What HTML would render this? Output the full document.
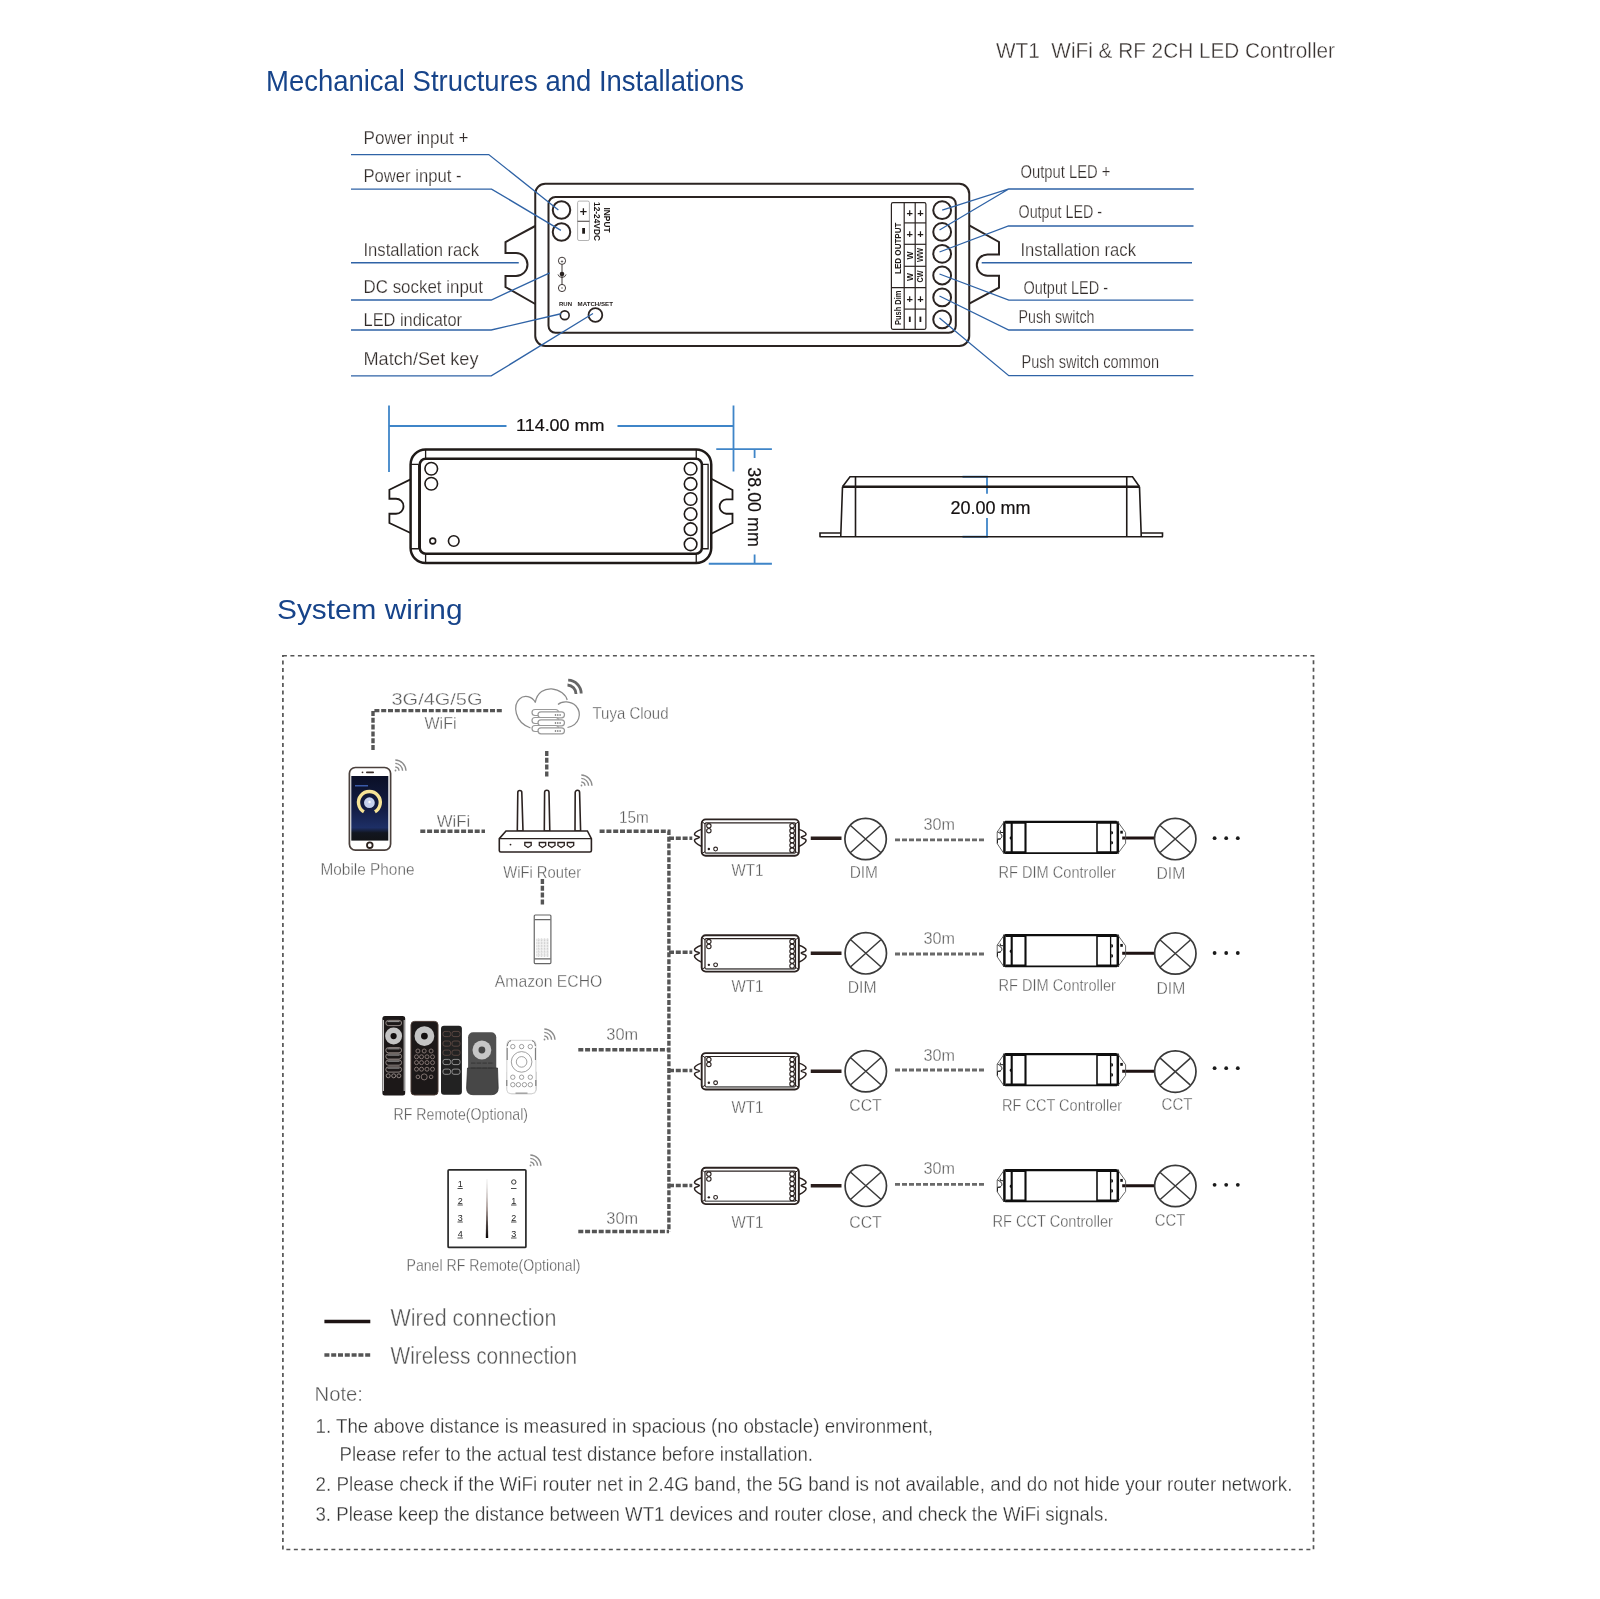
<!DOCTYPE html>
<html><head><meta charset="utf-8">
<style>
html,body{margin:0;padding:0;background:#fff;width:1600px;height:1599px;overflow:hidden}
svg{display:block;will-change:transform}
text{font-family:"Liberation Sans",sans-serif}
</style></head><body>
<svg width="1600" height="1599" viewBox="0 0 1600 1599">
<defs>
  <g id="wt1" fill="none" stroke="#2b2220">
    <rect x="0" y="0" width="97.15" height="36.4" rx="4" stroke-width="1.9"/>
    <rect x="3.3" y="3.4" width="90.5" height="30.3" rx="1.2" stroke-width="1.2"/>
    <line x1="4" y1="33.6" x2="93" y2="33.6" stroke="#777" stroke-width="1.2"/>
    <path d="M0.5,2.5 L3.3,4.5 M96.65,2.5 L93.8,4.5 M0.5,34 L3.3,32.2 M96.65,34 L93.8,32.2" stroke-width="1"/>
    <path d="M0,10 C-3,11 -7.2,12.5 -7.2,14.8 C-7.2,17 -2.3,16.5 -2.3,17.9 C-2.3,19.3 -7.2,18.8 -7.2,21 C-7.2,23.5 -3,25.5 0,27" stroke-width="1.5"/>
    <path d="M97.15,10 C100.15,11 104.35,12.5 104.35,14.8 C104.35,17 99.45,16.5 99.45,17.9 C99.45,19.3 104.35,18.8 104.35,21 C104.35,23.5 100.15,25.5 97.15,27" stroke-width="1.5"/>
    <g stroke-width="1.1">
      <circle cx="7.15" cy="6.4" r="2.2"/><circle cx="7.15" cy="11.3" r="2.2"/>
      <circle cx="90.4" cy="6.4" r="2.3"/><circle cx="90.4" cy="11.27" r="2.3"/><circle cx="90.4" cy="16.14" r="2.3"/>
      <circle cx="90.4" cy="21" r="2.3"/><circle cx="90.4" cy="25.9" r="2.3"/><circle cx="90.4" cy="30.8" r="2.3"/>
      <circle cx="13.9" cy="29.65" r="1.9"/>
    </g>
    <circle cx="7.15" cy="29.65" r="1.2" fill="#2b2220" stroke="none"/>
  </g>
  <g id="rfc" fill="none" stroke="#0e0e0e">
    <path d="M2,1 L113.5,1" stroke-width="2.1"/>
    <path d="M2,32.3 L114,32.3" stroke-width="1.7"/>
    <path d="M2.5,1.6 L22.4,1.6 M94,1.6 L114,1.6" stroke-width="2.6"/>
    <path d="M2.5,31.6 L22.4,31.6 M94,31.6 L114,31.6" stroke-width="2.6"/>
    <path d="M1.3,0.5 L1.3,32.8" stroke-width="2.5"/>
    <path d="M8.6,1 L8.6,32" stroke-width="2.1"/>
    <path d="M22.4,1 L22.4,32" stroke-width="2.1"/>
    <path d="M93.9,1 L93.9,32" stroke-width="1.6"/>
    <path d="M107.5,1 L107.5,32" stroke-width="1.3"/>
    <path d="M114.7,0.5 L114.7,32.8" stroke-width="2.5"/>
    <path d="M1.5,0.3 L-5.9,11.1 L-5.9,22.7 L0.5,32.2 M114.4,0.5 L122.5,11.7 L122.5,22.35 L114.7,32.7" stroke="#555" stroke-width="0.9"/>
    <path d="M-2.8,9.5 L-2.8,11.6 L0,11.6 M-5.6,11 C-2,12.5 -0.5,14.5 -1.5,16.5 C-2.5,18 -4,18.2 -5.6,18.2 L-2.5,18.2 M-5.6,18.5 L-5.6,22.5" stroke="#222" stroke-width="1"/>
  </g>
  <g id="rfcdots" fill="#111">
    <path d="M108.2,10 A1.8,1.8 0 0 1 108.2,13.6 Z M108.2,20 A1.8,1.8 0 0 1 108.2,23.6 Z"/>
    <path d="M8.3,15.3 A1.8,1.8 0 0 0 8.3,18.9 Z"/>
    <rect x="117.2" y="9.85" width="2.5" height="2.85"/>
  </g>
  <g id="lamp" fill="none" stroke="#3a3a3a" stroke-width="1.7">
    <circle cx="0" cy="0" r="20.7"/>
    <path d="M-15.1,-13.5 L15.1,13.5 M15.1,-13.5 L-15.1,13.5" stroke-width="1.5"/>
  </g>
  <g id="wifi3" fill="none" stroke="#8c8c8c" stroke-width="1.4">
    <path d="M0.3,-4 A4,4 0 0 1 4,-0.3 M0.3,-7.6 A7.6,7.6 0 0 1 7.6,-0.3 M0.3,-11 A11,11 0 0 1 11,-0.3"/>
    <circle cx="0.5" cy="-0.5" r="0.9" fill="#8c8c8c" stroke="none"/>
  </g>
  <linearGradient id="scr" x1="0" y1="0" x2="0" y2="1">
    <stop offset="0" stop-color="#0a0f26"/>
    <stop offset="0.5" stop-color="#131c44"/>
    <stop offset="0.8" stop-color="#1d2f66"/>
    <stop offset="0.88" stop-color="#121620"/>
    <stop offset="1" stop-color="#111317"/>
  </linearGradient>
  <linearGradient id="sld" x1="0" y1="0" x2="0" y2="1">
    <stop offset="0" stop-color="#eee"/>
    <stop offset="0.5" stop-color="#9a8a86"/>
    <stop offset="1" stop-color="#0a0606"/>
  </linearGradient>
</defs>
<rect x="0" y="0" width="1600" height="1599" fill="#fff"/>

<!-- HEADER -->
<text x="996" y="58.2" font-size="22" fill="#3a3432" stroke="#fff" stroke-width="0.35" textLength="339" lengthAdjust="spacingAndGlyphs">WT1&#160; WiFi &amp; RF 2CH LED Controller</text>
<text x="266" y="91" font-size="29.5" fill="#17448a" textLength="478" lengthAdjust="spacingAndGlyphs">Mechanical Structures and Installations</text>

<!-- MECH TOP VIEW -->
<g id="mech1" fill="none" stroke="#2b2422" stroke-width="2">
  <rect x="535.25" y="183.75" width="434" height="162.25" rx="10"/>
  <rect x="548.5" y="197" width="407.3" height="135.8" rx="7"/>
  <path d="M535.25,226 L505.5,242 L505.5,253 L516,253 A11.5,11.5 0 0 1 516,276 L505.5,276 L505.5,287 L535.25,304"/>
  <path d="M969.25,225.3 L999,242 L999,254.4 L987.5,254.4 A10.7,10.7 0 0 0 987.5,275.8 L999,275.8 L999,287.7 L969.25,303.7"/>
  <circle cx="561.5" cy="210" r="8.75"/>
  <circle cx="561.5" cy="232" r="8.75"/>
  <circle cx="564.75" cy="315.25" r="4.4" stroke-width="1.6"/>
  <circle cx="595.4" cy="315" r="6.9" stroke-width="1.8"/>
  <rect x="577.6" y="201.1" width="11.8" height="39.4" rx="1.5" stroke="#aaa" stroke-width="0.9"/>
  <line x1="577.6" y1="221.25" x2="589.4" y2="221.25" stroke-width="0.9"/>
  <g stroke-width="1">
    <circle cx="562" cy="260.8" r="3.6" stroke-width="0.9"/>
    <circle cx="562" cy="288" r="3.6" stroke-width="0.9"/>
    <line x1="562" y1="264.4" x2="562" y2="284.4" stroke-width="0.9"/>
    <path d="M558,274.5 A4.2,4.2 0 0 0 566,274.5" stroke-width="0.9"/>
    <path d="M560.8,261.5 L563.2,261.5 M562,260.3 L562,262.7 M562,287 L562,289" stroke-width="0.6"/>
  </g>
  <circle cx="562" cy="274" r="2.3" fill="#2b2422" stroke="none"/>
  <!-- right circles -->
  <g stroke-width="2">
    <circle cx="942.15" cy="210.2" r="8.9"/>
    <circle cx="942.15" cy="231.9" r="8.9"/>
    <circle cx="942.15" cy="253.8" r="8.9"/>
    <circle cx="942.15" cy="275.5" r="8.9"/>
    <circle cx="942.15" cy="297.4" r="8.9"/>
    <circle cx="942.15" cy="319.4" r="8.9"/>
  </g>
  <!-- table -->
  <g stroke-width="1.2">
    <rect x="891.4" y="202.7" width="34.5" height="126.6" rx="1.5"/>
    <line x1="904.2" y1="202.7" x2="904.2" y2="329.3"/>
    <line x1="915.2" y1="202.7" x2="915.2" y2="329.3"/>
    <line x1="904.2" y1="222.9" x2="925.9" y2="222.9"/>
    <line x1="904.2" y1="244.3" x2="925.9" y2="244.3"/>
    <line x1="904.2" y1="266.3" x2="925.9" y2="266.3"/>
    <line x1="891.4" y1="287.7" x2="925.9" y2="287.7"/>
    <line x1="904.2" y1="309.1" x2="925.9" y2="309.1"/>
  </g>
</g>
<g fill="#1f1a18" font-weight="bold">
  <path d="M580.2,211.6 L586.6,211.6 M583.4,208.3 L583.4,214.9" stroke="#1f1a18" stroke-width="1.3"/>
  <rect x="582.2" y="228" width="2.8" height="5.7"/>
  <text transform="translate(604,207.5) rotate(90)" font-size="8.2" textLength="25" lengthAdjust="spacingAndGlyphs">INPUT</text>
  <text transform="translate(594,202) rotate(90)" font-size="8.2" textLength="39" lengthAdjust="spacingAndGlyphs">12-24VDC</text>
  <text x="559" y="305.5" font-size="6.2" textLength="13" lengthAdjust="spacingAndGlyphs">RUN</text>
  <text x="577.5" y="305.5" font-size="6.2" textLength="35.5" lengthAdjust="spacingAndGlyphs">MATCH/SET</text>
</g>
<g fill="#1f1a18" font-weight="bold">
  <text transform="translate(900.6,274) rotate(-90)" font-size="8.4" textLength="51.5" lengthAdjust="spacingAndGlyphs">LED OUTPUT</text>
  <text transform="translate(900.6,325) rotate(-90)" font-size="8.4" textLength="34.5" lengthAdjust="spacingAndGlyphs">Push Dim</text>
  <g font-size="11" font-weight="bold" text-anchor="middle">
    <text x="909.8" y="216.8">+</text><text x="920.4" y="216.8">+</text>
    <text x="909.8" y="237.8">+</text><text x="920.4" y="237.8">+</text>
    <text x="909.8" y="302.6">+</text><text x="920.4" y="302.6">+</text>
  </g>
  <rect x="908.9" y="316.6" width="1.8" height="5.4"/>
  <rect x="919.5" y="316.6" width="1.8" height="5.4"/>
  <text transform="translate(912.8,259.5) rotate(-90)" font-size="8.4" textLength="8" lengthAdjust="spacingAndGlyphs">W</text>
  <text transform="translate(912.8,281) rotate(-90)" font-size="8.4" textLength="8" lengthAdjust="spacingAndGlyphs">W</text>
  <text transform="translate(923.4,262) rotate(-90)" font-size="8.4" textLength="14" lengthAdjust="spacingAndGlyphs">WW</text>
  <text transform="translate(923.4,282.5) rotate(-90)" font-size="8.4" textLength="12" lengthAdjust="spacingAndGlyphs">CW</text>
</g>

<!-- leader lines -->
<g fill="none" stroke="#2f63a6" stroke-width="1.3">
  <path d="M351,154.6 L488.75,154.6 L558.4,210"/>
  <path d="M351,189.1 L491.6,189.1 L560.9,230.4"/>
  <path d="M351,262.75 L518.75,262.75"/>
  <path d="M351,300 L491.25,300 L549.75,272.9"/>
  <path d="M351,330 L491.25,330 L561,313.75"/>
  <path d="M351,375.9 L491.25,375.9 L593,313.5"/>
  <path d="M1193.75,189 L1008.75,189 L942.2,210.2 M1008.75,189 L939.5,230"/>
  <path d="M1193.5,226 L1008.5,226 L939.5,252"/>
  <path d="M1192,262.75 L981.7,262.75"/>
  <path d="M1193.4,300.2 L1008.8,300.2 L939.5,274"/>
  <path d="M1193.4,330 L1008.8,330 L939.5,296"/>
  <path d="M1193.4,375.7 L1008.8,375.7 L939.5,318"/>
</g>
<g fill="#322c2a" stroke="#fff" stroke-width="0.25">
  <text x="363.5" y="144.4" font-size="19" textLength="105" lengthAdjust="spacingAndGlyphs">Power input +</text>
  <text x="363.5" y="181.9" font-size="19" textLength="98" lengthAdjust="spacingAndGlyphs">Power input -</text>
  <text x="363.5" y="255.9" font-size="19" textLength="115.5" lengthAdjust="spacingAndGlyphs">Installation rack</text>
  <text x="363.5" y="292.5" font-size="19" textLength="119.5" lengthAdjust="spacingAndGlyphs">DC socket input</text>
  <text x="363.5" y="325.6" font-size="19" textLength="98.5" lengthAdjust="spacingAndGlyphs">LED indicator</text>
  <text x="363.5" y="365" font-size="19" textLength="115" lengthAdjust="spacingAndGlyphs">Match/Set key</text>
  <text x="1020.5" y="178.1" font-size="17.5" textLength="90" lengthAdjust="spacingAndGlyphs">Output LED +</text>
  <text x="1018.5" y="217.5" font-size="17.5" textLength="83.5" lengthAdjust="spacingAndGlyphs">Output LED -</text>
  <text x="1020.5" y="255.6" font-size="17.5" textLength="115.5" lengthAdjust="spacingAndGlyphs">Installation rack</text>
  <text x="1023.5" y="293.6" font-size="17.5" textLength="84.5" lengthAdjust="spacingAndGlyphs">Output LED -</text>
  <text x="1018.5" y="323.2" font-size="17.5" textLength="76" lengthAdjust="spacingAndGlyphs">Push switch</text>
  <text x="1021.5" y="367.8" font-size="17.5" textLength="137.5" lengthAdjust="spacingAndGlyphs">Push switch common</text>
</g>

<!-- DIMENSION VIEW -->
<g fill="none" stroke="#1f1a18" stroke-width="2.5">
  <rect x="410.6" y="449.4" width="300.65" height="113.6" rx="15"/>
  <rect x="419.75" y="458.75" width="282.15" height="95" rx="6"/>
  <path d="M418.75,464.4 L411,464.4 M418.75,464.4 L418.75,548.75 L411,548.75" stroke-width="1.3"/>
  <path d="M702.5,464.4 L708.1,464.4 L708.1,548.75 L702.5,548.75" stroke-width="1.3"/>
  <path d="M425.6,449.4 L425.6,458.75 M425.6,553.75 L425.6,563 M696.25,449.4 L696.25,458.75 M696.25,553.75 L696.25,563" stroke-width="1.3"/>
  <path d="M410.6,479.4 L389.4,489.75 L389.4,498.75 L396,498.75 A7.5,7.5 0 0 1 396,513.75 L389.4,513.75 L389.4,523 L410.6,533" stroke-width="1.8"/>
  <path d="M711.25,478.75 L732.5,490 L732.5,499.4 L726.25,499.4 A7.2,7.2 0 0 0 726.25,513.75 L732.5,513.75 L732.5,523 L711.25,533.75" stroke-width="1.8"/>
  <g stroke-width="1.6">
    <circle cx="431.25" cy="468.75" r="6.3"/>
    <circle cx="431.25" cy="483.75" r="6.3"/>
    <circle cx="432.75" cy="541" r="2.9"/>
    <circle cx="453.75" cy="541" r="5.3"/>
    <circle cx="690.6" cy="468.75" r="6.3"/>
    <circle cx="690.6" cy="483.9" r="6.3"/>
    <circle cx="690.6" cy="499" r="6.3"/>
    <circle cx="690.6" cy="514.1" r="6.3"/>
    <circle cx="690.6" cy="529.2" r="6.3"/>
    <circle cx="690.6" cy="544.3" r="6.3"/>
  </g>
</g>
<g fill="none" stroke="#3f85c8" stroke-width="1.8">
  <path d="M389,405.6 L389,471.9 M389,426 L506.5,426 M617.5,426 L733.5,426 M733.5,405.6 L733.5,471.5"/>
  <path d="M716.25,449.1 L771.9,449.1 M708.75,563.75 L771.9,563.75 M754.6,449.1 L754.6,458 M754.6,554.6 L754.6,563.75"/>
  <path d="M962.5,476.75 L987,476.75 L987,493.75 M987,518 L987,536.75 L962.5,536.75"/>
</g>
<g fill="#141010" stroke="#141010" stroke-width="0.2">
  <text x="516" y="431.25" font-size="17" textLength="88.5" lengthAdjust="spacingAndGlyphs">114.00 mm</text>
  <text transform="translate(748.3,467.3) rotate(90)" font-size="19" textLength="79.5" lengthAdjust="spacingAndGlyphs">38.00 mm</text>
  <text x="950.5" y="513.75" font-size="17.5" textLength="80" lengthAdjust="spacingAndGlyphs">20.00 mm</text>
</g>
<!-- side view -->
<g fill="none" stroke="#1f1a18" stroke-width="1.6">
  <path d="M842.5,486.75 L850,476.75 L1132.5,476.75 L1139.5,486.75"/>
  <path d="M842.5,486.75 L1139.5,486.75" stroke-width="2.6"/>
  <path d="M842.5,486.75 L840.75,536.5 M1139.5,486.75 L1141.25,536.5"/>
  <path d="M855.5,476.75 L855.5,536.5 M1126.75,476.75 L1126.75,536.5"/>
  <path d="M819.5,536.75 L1163,536.75"/>
  <path d="M820,536.75 L820,533 L840.75,533 M1141.25,533 L1162.5,533 L1162.5,536.75"/>
</g>

<!-- SYSTEM WIRING -->
<text x="277" y="619" font-size="28.5" fill="#17448a" textLength="185.5" lengthAdjust="spacingAndGlyphs">System wiring</text>
<rect x="282.9" y="655.75" width="1030.6" height="893.75" fill="none" stroke="#555" stroke-width="1.7" stroke-dasharray="4 3.5"/>

<!-- wireless thick dashed -->
<g fill="none" stroke="#555" stroke-width="3.4" stroke-dasharray="5 1.8">
  <path d="M373,750 L373,710.6 L502,710.6"/>
  <path d="M546.75,751 L546.75,778"/>
  <path d="M420.3,831.25 L485,831.25"/>
  <path d="M599.6,831.25 L668.9,831.25 L668.9,1231.5"/>
  <path d="M542.4,879 L542.4,905.4"/>
  <path d="M669,838.25 L692.25,838.25 M669,952.25 L692.25,952.25 M669,1070.5 L692.25,1070.5 M669,1185.5 L692.25,1185.5"/>
  <path d="M578.3,1049.8 L669,1049.8"/>
  <path d="M578.3,1231.5 L669,1231.5"/>
  <path d="M324.4,1355 L370.3,1355"/>
</g>
<g fill="none" stroke="#6a6a6a" stroke-width="2.8" stroke-dasharray="5 2">
  <path d="M895,839.8 L986,839.8 M895,954 L986,954 M895,1070 L986,1070 M895,1184.3 L986,1184.3"/>
</g>
<!-- wires -->
<g stroke="#2a1e1c" stroke-width="3.6">
  <path d="M810.75,838.25 L841.5,838.25 M810.75,953.3 L841.5,953.3 M810.75,1071.25 L841.5,1071.25 M810.75,1185.8 L841.5,1185.8"/>
</g>
<g stroke="#1e1212" stroke-width="3">
  <path d="M1122.2,838.1 L1155,838.1 M1122.2,953.3 L1155,953.3 M1122.2,1071.3 L1155,1071.3 M1122.2,1185.8 L1155,1185.8"/>
</g>
<path d="M324.4,1321.5 L370.3,1321.5" stroke="#1e1414" stroke-width="3.6"/>

<use href="#wt1" x="701.7" y="819.4"/>
<use href="#wt1" x="701.7" y="935.2"/>
<use href="#wt1" x="701.7" y="1053.1"/>
<use href="#wt1" x="701.7" y="1167.7"/>
<use href="#rfc" x="1003.1" y="820.9"/><use href="#rfcdots" x="1003.1" y="820.9"/>
<use href="#rfc" x="1003.1" y="934.1"/><use href="#rfcdots" x="1003.1" y="934.1"/>
<use href="#rfc" x="1003.1" y="1053.1"/><use href="#rfcdots" x="1003.1" y="1053.1"/>
<use href="#rfc" x="1003.1" y="1169.1"/><use href="#rfcdots" x="1003.1" y="1169.1"/>
<use href="#lamp" x="865.6" y="839"/>
<use href="#lamp" x="865.8" y="953.3"/>
<use href="#lamp" x="865.8" y="1071.25"/>
<use href="#lamp" x="865.8" y="1185.8"/>
<use href="#lamp" x="1175.2" y="839.05"/>
<use href="#lamp" x="1175.3" y="953.5"/>
<use href="#lamp" x="1175.3" y="1071.6"/>
<use href="#lamp" x="1175.3" y="1186"/>
<g fill="#1a1a1a">
  <circle cx="1214.6" cy="838.2" r="1.9"/><circle cx="1226.2" cy="838.2" r="1.9"/><circle cx="1237.8" cy="838.2" r="1.9"/>
  <circle cx="1214.6" cy="953" r="1.9"/><circle cx="1226.2" cy="953" r="1.9"/><circle cx="1237.8" cy="953" r="1.9"/>
  <circle cx="1214.6" cy="1068.2" r="1.9"/><circle cx="1226.2" cy="1068.2" r="1.9"/><circle cx="1237.8" cy="1068.2" r="1.9"/>
  <circle cx="1214.6" cy="1184.8" r="1.9"/><circle cx="1226.2" cy="1184.8" r="1.9"/><circle cx="1237.8" cy="1184.8" r="1.9"/>
</g>

<!-- cloud -->
<g fill="none" stroke="#8a8a8a" stroke-width="1.2">
  <path d="M535.5,702.5 C532,696 524,694.5 519.5,699 C513,705 514,722 530.5,728"/>
  <path d="M535.3,702.5 C537,692 545,688.5 551.5,688.8 C560,689.5 566,695 567.2,700"/>
  <path d="M558,704.5 C562,700.5 571,701 576,706 C582,713 580,725 567.5,727.5"/>
  <g stroke="#999" fill="#fff">
    <rect x="532" y="709.5" width="26.5" height="6" rx="3"/>
    <rect x="538" y="711.8" width="26.5" height="6" rx="3"/>
    <rect x="532" y="717.5" width="26.5" height="6" rx="3"/>
    <rect x="538" y="719.8" width="26.5" height="6" rx="3"/>
    <rect x="532" y="725.5" width="26.5" height="6" rx="3"/>
    <rect x="538" y="727.8" width="26.5" height="6" rx="3"/>
  </g>
</g>
<g fill="#555">
  <circle cx="555.5" cy="715" r="0.8"/><circle cx="557.8" cy="715" r="0.8"/><circle cx="560.1" cy="715" r="0.8"/>
  <circle cx="555.5" cy="723" r="0.8"/><circle cx="557.8" cy="723" r="0.8"/><circle cx="560.1" cy="723" r="0.8"/>
  <circle cx="555.5" cy="731" r="0.8"/><circle cx="557.8" cy="731" r="0.8"/><circle cx="560.1" cy="731" r="0.8"/>
</g>
<path d="M567.5,685 A9,9 0 0 1 576,694 M568.2,680.2 A13.4,13.4 0 0 1 581.2,693.5" fill="none" stroke="#666" stroke-width="2.8"/>

<!-- phone -->
<rect x="349.4" y="767.5" width="41.2" height="82.6" rx="6" fill="#fff" stroke="#4a403c" stroke-width="1.7"/>
<rect x="351.3" y="776" width="37" height="64.6" fill="url(#scr)"/>
<path d="M363.9,811.8 A10.9,10.9 0 1 1 374.9,811.8" fill="none" stroke="#f6e396" stroke-width="3.4"/>
<circle cx="369.4" cy="802.7" r="5.4" fill="#c5d1ee"/>
<circle cx="369.5" cy="802" r="1.2" fill="#fff"/>
<rect x="355" y="785" width="13" height="1.5" fill="#3a5aa8"/>
<circle cx="369.8" cy="845.2" r="2.8" fill="none" stroke="#2a201c" stroke-width="1.8"/>
<rect x="366" y="771.6" width="8" height="1.6" rx="0.8" fill="#3a2e2a"/>
<circle cx="362.5" cy="772.3" r="0.9" fill="#3a2e2a"/>
<use href="#wifi3" x="395" y="771"/>

<!-- router -->
<g fill="#fff" stroke="#2b2220" stroke-width="1.6">
  <path d="M517.3,831 L517.8,792.5 A2,2 0 0 1 521.8,792.5 L523,831 Z"/>
  <path d="M544.3,831 L544.6,792.5 A2.2,2.2 0 0 1 549,792.5 L549.8,831 Z"/>
  <path d="M575,831 L575.2,792.5 A2.2,2.2 0 0 1 579.6,792.5 L580.6,831 Z"/>
  <path d="M499.3,838.6 L506,831 L587.4,831 L591.4,838.6 L591.4,850.5 Q591.4,852 589.8,852 L500.8,852 Q499.3,852 499.3,850.5 Z"/>
  <path d="M499.3,838.6 L591.4,838.6" fill="none" stroke-width="1.2"/>
  <g stroke-width="1.3">
    <path d="M524.8,842.5 L531.2,842.5 L531.2,845.5 L528,847.5 L524.8,845.5 Z"/>
    <path d="M539.3,842.5 L545.7,842.5 L545.7,845.5 L542.5,847.5 L539.3,845.5 Z"/>
    <path d="M548.6,842.5 L555,842.5 L555,845.5 L551.8,847.5 L548.6,845.5 Z"/>
    <path d="M557.9,842.5 L564.3,842.5 L564.3,845.5 L561.1,847.5 L557.9,845.5 Z"/>
    <path d="M567.3,842.5 L573.7,842.5 L573.7,845.5 L570.5,847.5 L567.3,845.5 Z"/>
  </g>
</g>
<circle cx="510.5" cy="844.6" r="0.9" fill="#2b2220"/>
<use href="#wifi3" x="581" y="786"/>

<!-- echo -->
<g fill="none" stroke="#666" stroke-width="1.2">
  <rect x="534.25" y="915" width="16.65" height="48.6" rx="1"/>
  <path d="M534.5,919.6 L550.6,919.6 M534.5,958.8 L550.6,958.8"/>
</g>
<g fill="#aaa">
  <rect x="536" y="938.5" width="13" height="18.5" fill="#f2f2f2"/>
</g>
<g stroke="#bbb" stroke-width="0.6" stroke-dasharray="0.8 0.8">
  <path d="M536,940 L549,940 M536,943 L549,943 M536,946 L549,946 M536,949 L549,949 M536,952 L549,952 M536,955 L549,955"/>
  <path d="M538.5,938.5 L538.5,957 M541.5,938.5 L541.5,957 M544.5,938.5 L544.5,957 M547.5,938.5 L547.5,957"/>
</g>

<!-- remotes -->
<g>
  <rect x="382.4" y="1015.9" width="22.8" height="79.7" rx="2.5" fill="#1c1818"/>
  <path d="M383.4,1020 L383.4,1091" stroke="#c8c8c8" stroke-width="1.2"/>
  <path d="M404.2,1020 L404.2,1091" stroke="#d0d0d0" stroke-width="1"/>
  <circle cx="393.6" cy="1036.1" r="8.5" fill="#c4c4c4"/>
  <circle cx="393.6" cy="1036.1" r="3.1" fill="#141010"/>
  <g fill="none" stroke="#9a908c" stroke-width="0.9">
    <rect x="385.8" y="1020.4" width="15.8" height="5.2" rx="2.6"/>
    <rect x="385.8" y="1047.6" width="15.8" height="5.2" rx="2.6"/>
    <rect x="385.8" y="1053.9" width="15.8" height="5.2" rx="2.6"/>
    <rect x="385.8" y="1060" width="15.8" height="5.2" rx="2.6"/>
    <rect x="385.8" y="1066.9" width="15.8" height="5.2" rx="2.6"/>
    <circle cx="388.2" cy="1075.8" r="2"/><circle cx="393.7" cy="1075.8" r="2"/><circle cx="398.9" cy="1075.8" r="2"/>
  </g>
  <path d="M387.5,1021.6 L399.5,1021.6 M387.5,1048.8 L399.5,1048.8 M387.5,1055.1 L399.5,1055.1 M387.5,1061.2 L399.5,1061.2 M387.5,1068.1 L399.5,1068.1" stroke="#aaa" stroke-width="0.9"/>
  <rect x="411" y="1021.4" width="27" height="73.6" rx="3.5" fill="#1c1818" stroke="#4a3a34" stroke-width="1"/>
  <circle cx="424.4" cy="1036.1" r="9.9" fill="#c4c4c4"/>
  <circle cx="424.4" cy="1036.1" r="3.4" fill="#141010"/>
  <g fill="none" stroke="#8a7c78" stroke-width="0.9">
    <circle cx="417.9" cy="1051" r="2"/><circle cx="424.2" cy="1051" r="2"/><circle cx="431.1" cy="1051" r="2"/>
    <circle cx="416.5" cy="1056.8" r="2"/><circle cx="421.5" cy="1056.8" r="2"/><circle cx="427" cy="1056.8" r="2"/><circle cx="432.5" cy="1056.8" r="2"/>
    <circle cx="416.5" cy="1062.6" r="2"/><circle cx="421.5" cy="1062.6" r="2"/><circle cx="427" cy="1062.6" r="2"/><circle cx="432.5" cy="1062.6" r="2"/>
    <circle cx="416.5" cy="1069.2" r="2"/><circle cx="421.5" cy="1069.2" r="2"/><circle cx="427" cy="1069.2" r="2"/><circle cx="432.5" cy="1069.2" r="2"/>
    <circle cx="417.9" cy="1076.9" r="1.8"/><circle cx="424.2" cy="1076.9" r="3"/><circle cx="431.1" cy="1076.9" r="1.8"/>
  </g>
  <rect x="441" y="1025.8" width="20.9" height="69" rx="3" fill="#222"/>
  <g fill="none" stroke="#5e4a44" stroke-width="0.9">
    <rect x="443" y="1031.4" width="7.6" height="5.2" rx="2"/><rect x="452" y="1031.4" width="8" height="5.2" rx="2"/>
    <rect x="443" y="1041" width="7.6" height="5.2" rx="2"/><rect x="452" y="1041" width="8" height="5.2" rx="2"/>
    <rect x="443" y="1050.1" width="7.6" height="5.2" rx="2"/><rect x="452" y="1050.1" width="8" height="5.2" rx="2"/>
  </g>
  <g fill="none" stroke="#9a9a9a" stroke-width="0.9">
    <rect x="443" y="1059.4" width="7.6" height="5.2" rx="2"/><rect x="452" y="1059.4" width="8" height="5.2" rx="2"/>
    <rect x="443" y="1069.1" width="7.6" height="5.2" rx="2"/><rect x="452" y="1069.1" width="8" height="5.2" rx="2"/>
  </g>
  <rect x="468.1" y="1032.2" width="28.15" height="40" rx="5" fill="#505050"/>
  <path d="M467.5,1068 L497.5,1068 L498.2,1088 Q498.2,1094.7 491.5,1094.7 L473,1094.7 Q466.6,1094.7 466.6,1088 Z" fill="#474747" stroke="#333" stroke-width="0.8"/>
  <circle cx="481.9" cy="1050" r="9.4" fill="#c6c6c6"/>
  <circle cx="481.9" cy="1050" r="3.4" fill="#454545"/>
  <path d="M471,1063.1 L494,1063.1 M471,1068.1 L494,1068.1" stroke="#333" stroke-width="0.9" stroke-dasharray="4.5 1.2"/>
  <path d="M507,1072 L507,1088 Q507,1093.8 512,1093.8 L531,1093.8 Q536.5,1093.8 536.5,1088 L536.5,1072 Z" fill="#fff" stroke="#d8d8d8" stroke-width="1"/>
  <rect x="506.8" y="1040.3" width="29.1" height="53.4" rx="4" fill="#fff" stroke="#c8c8c8" stroke-width="0.8"/>
  <path d="M507.3,1046 Q508,1041 511,1040.8 M535.4,1046 Q534.8,1041 532,1040.8 M507.2,1048 L507.2,1060 M535.4,1048 L535.4,1060 M506.8,1080 L506.8,1086 M535.8,1080 L535.8,1086" fill="none" stroke="#555" stroke-width="0.8"/>
  <path d="M515.5,1093.1 L527.5,1093.1" stroke="#777" stroke-width="0.9"/>
  <g fill="none" stroke="#888" stroke-width="0.8">
    <circle cx="512.8" cy="1046.6" r="2.2"/><circle cx="521.6" cy="1046.6" r="2.2"/><circle cx="530.3" cy="1046.6" r="2.2"/>
    <circle cx="521.6" cy="1061.9" r="10.3"/><circle cx="521.6" cy="1061.9" r="5.3"/>
    <circle cx="512.8" cy="1077.2" r="2.2"/><circle cx="521.6" cy="1077.2" r="2.2"/><circle cx="530.3" cy="1077.2" r="2.2"/>
    <circle cx="512.8" cy="1084.7" r="2.2"/><circle cx="518.4" cy="1084.7" r="2.2"/><circle cx="524.4" cy="1084.7" r="2.2"/><circle cx="530.3" cy="1084.7" r="2.2"/>
  </g>
</g>
<use href="#wifi3" x="544" y="1040"/>

<!-- panel -->
<rect x="448.1" y="1169.8" width="77.8" height="77.6" rx="1" fill="none" stroke="#2a2a2a" stroke-width="1.7"/>
<path d="M486.6,1179 L487.4,1179 L488.2,1238 L485.8,1238 Z" fill="url(#sld)"/>
<g font-size="9" fill="#222" text-anchor="middle">
  <text x="460.2" y="1187">1</text><text x="460.2" y="1203.5">2</text><text x="460.2" y="1220.5">3</text><text x="460.2" y="1236.5">4</text>
  <text x="513.8" y="1203.5">1</text><text x="513.8" y="1220.5">2</text><text x="513.8" y="1236.5">3</text>
</g>
<g stroke="#222" stroke-width="0.8">
  <path d="M457.5,1188.5 L462.8,1188.5 M457.5,1205 L462.8,1205 M457.5,1222 L462.8,1222 M457.5,1238 L462.8,1238"/>
  <path d="M511,1188.5 L516.5,1188.5 M511,1205 L516.5,1205 M511,1222 L516.5,1222 M511,1238 L516.5,1238"/>
</g>
<circle cx="513.8" cy="1182" r="2.2" fill="none" stroke="#222" stroke-width="0.9"/>
<use href="#wifi3" x="530" y="1166"/>

<!-- wiring labels -->
<g fill="#5c5c5c" font-size="17" stroke="#fff" stroke-width="0.32">
  <text x="391.5" y="705" textLength="91" lengthAdjust="spacingAndGlyphs">3G/4G/5G</text>
  <text x="424.5" y="729" textLength="32" lengthAdjust="spacingAndGlyphs">WiFi</text>
  <text x="592.5" y="719" textLength="76" lengthAdjust="spacingAndGlyphs">Tuya Cloud</text>
  <text x="320.5" y="874.7" textLength="94" lengthAdjust="spacingAndGlyphs">Mobile Phone</text>
  <text x="436.7" y="826.9" textLength="33.5" lengthAdjust="spacingAndGlyphs">WiFi</text>
  <text x="503.2" y="877.6" textLength="78" lengthAdjust="spacingAndGlyphs">WiFi Router</text>
  <text x="619" y="823" textLength="29.8" lengthAdjust="spacingAndGlyphs">15m</text>
  <text x="494.8" y="986.8" textLength="107.5" lengthAdjust="spacingAndGlyphs">Amazon ECHO</text>
  <text x="393.5" y="1119.6" textLength="134.5" lengthAdjust="spacingAndGlyphs">RF Remote(Optional)</text>
  <text x="406.5" y="1270.5" textLength="174" lengthAdjust="spacingAndGlyphs">Panel RF Remote(Optional)</text>
  <text x="606.3" y="1040" textLength="31.8" lengthAdjust="spacingAndGlyphs">30m</text>
  <text x="606.3" y="1224" textLength="31.8" lengthAdjust="spacingAndGlyphs">30m</text>
  <text x="731.5" y="875.75" textLength="32" lengthAdjust="spacingAndGlyphs">WT1</text>
  <text x="731.5" y="992" textLength="32" lengthAdjust="spacingAndGlyphs">WT1</text>
  <text x="731.5" y="1113.25" textLength="32" lengthAdjust="spacingAndGlyphs">WT1</text>
  <text x="731.5" y="1227.8" textLength="32" lengthAdjust="spacingAndGlyphs">WT1</text>
  <text x="849.7" y="878" textLength="28.3" lengthAdjust="spacingAndGlyphs">DIM</text>
  <text x="847.75" y="992.75" textLength="28.8" lengthAdjust="spacingAndGlyphs">DIM</text>
  <text x="849.25" y="1111" textLength="32.5" lengthAdjust="spacingAndGlyphs">CCT</text>
  <text x="849.25" y="1227.8" textLength="32.5" lengthAdjust="spacingAndGlyphs">CCT</text>
  <text x="923.5" y="830" textLength="31.5" lengthAdjust="spacingAndGlyphs">30m</text>
  <text x="923.5" y="944.3" textLength="31.5" lengthAdjust="spacingAndGlyphs">30m</text>
  <text x="923.5" y="1060.5" textLength="31.5" lengthAdjust="spacingAndGlyphs">30m</text>
  <text x="923.5" y="1173.9" textLength="31.5" lengthAdjust="spacingAndGlyphs">30m</text>
  <text x="998.6" y="878.2" textLength="117.3" lengthAdjust="spacingAndGlyphs">RF DIM Controller</text>
  <text x="998.6" y="991.2" textLength="117.3" lengthAdjust="spacingAndGlyphs">RF DIM Controller</text>
  <text x="1002.1" y="1110.5" textLength="120" lengthAdjust="spacingAndGlyphs">RF CCT Controller</text>
  <text x="992.4" y="1227.1" textLength="120.5" lengthAdjust="spacingAndGlyphs">RF CCT Controller</text>
  <text x="1156.5" y="878.6" textLength="28.8" lengthAdjust="spacingAndGlyphs">DIM</text>
  <text x="1156.5" y="993.5" textLength="28.8" lengthAdjust="spacingAndGlyphs">DIM</text>
  <text x="1161.6" y="1109.8" textLength="30.9" lengthAdjust="spacingAndGlyphs">CCT</text>
  <text x="1154.7" y="1226" textLength="30.6" lengthAdjust="spacingAndGlyphs">CCT</text>
</g>
<g fill="#555" stroke="#fff" stroke-width="0.35">
  <text x="390.5" y="1325.6" font-size="23" textLength="166" lengthAdjust="spacingAndGlyphs">Wired connection</text>
  <text x="390.5" y="1363.7" font-size="23" textLength="186.5" lengthAdjust="spacingAndGlyphs">Wireless connection</text>
  <text x="314.5" y="1401" font-size="21" textLength="48.5" lengthAdjust="spacingAndGlyphs">Note:</text>
</g>
<g fill="#333" font-size="20.5" stroke="#fff" stroke-width="0.28">
  <text x="315.5" y="1432.5" textLength="617.5" lengthAdjust="spacingAndGlyphs">1. The above distance is measured in spacious (no obstacle) environment,</text>
  <text x="339.5" y="1461.25" textLength="473.5" lengthAdjust="spacingAndGlyphs">Please refer to the actual test distance before installation.</text>
  <text x="315.5" y="1491" textLength="977" lengthAdjust="spacingAndGlyphs">2. Please check if the WiFi router net in 2.4G band, the 5G band is not available, and do not hide your router network.</text>
  <text x="315.5" y="1521.25" textLength="793" lengthAdjust="spacingAndGlyphs">3. Please keep the distance between WT1 devices and router close, and check the WiFi signals.</text>
</g>

</svg>
</body></html>
